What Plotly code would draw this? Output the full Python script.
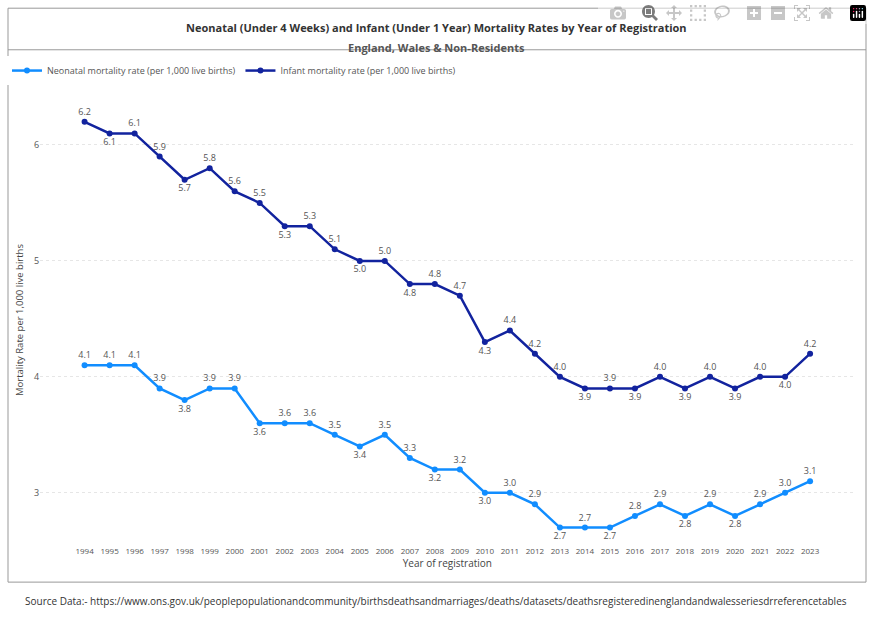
import plotly.graph_objects as go

years = [str(y) for y in range(1994, 2024)]
infant = [6.2, 6.1, 6.1, 5.9, 5.7, 5.8, 5.6, 5.5, 5.3, 5.3, 5.1, 5.0, 5.0, 4.8, 4.8,
          4.7, 4.3, 4.4, 4.2, 4.0, 3.9, 3.9, 3.9, 4.0, 3.9, 4.0, 3.9, 4.0, 4.0, 4.2]
neonatal = [4.1, 4.1, 4.1, 3.9, 3.8, 3.9, 3.9, 3.6, 3.6, 3.6, 3.5, 3.4, 3.5, 3.3, 3.2,
            3.2, 3.0, 3.0, 2.9, 2.7, 2.7, 2.7, 2.8, 2.9, 2.8, 2.9, 2.8, 2.9, 3.0, 3.1]

T, B = "top center", "bottom center"
inf_pos = [T, B, T, T, B, T, T, T, B, T, T, B, T, B, T, T, B, T, T, T, B, T, B, T, B, T, B, T, B, T]
neo_pos = [T, T, T, T, B, T, T, B, T, T, T, B, T, T, B, T, B, T, T, B, T, B, T, T, B, T, B, T, T, T]

font = "Open Sans, Liberation Sans, sans-serif"

fig = go.Figure()
fig.add_trace(go.Scatter(x=years, y=neonatal, mode="lines+markers+text",
                         name="Neonatal mortality rate (per 1,000 live births)",
                         line=dict(color="#118DFF", width=2.5), marker=dict(size=6),
                         text=[f"{v:.1f}" for v in neonatal], textposition=neo_pos,
                         textfont=dict(size=9, color="#555")))
fig.add_trace(go.Scatter(x=years, y=infant, mode="lines+markers+text",
                         name="Infant mortality rate (per 1,000 live births)",
                         line=dict(color="#12239E", width=2.5), marker=dict(size=6),
                         text=[f"{v:.1f}" for v in infant], textposition=inf_pos,
                         textfont=dict(size=9, color="#555")))

fig.update_layout(
    width=872, height=630, margin=dict(l=0, r=0, t=0, b=0),
    paper_bgcolor="white", plot_bgcolor="white",
    font=dict(family=font, color="#444"),
    showlegend=True,
    legend=dict(orientation="h", x=0.008, y=0.888, xanchor="left", yanchor="middle",
                font=dict(size=9, color="#555"), itemwidth=30, traceorder="normal"),
    xaxis=dict(domain=[0.046, 0.98], type="category", showgrid=False, tickangle=0,
               tickfont=dict(size=8, color="#555"),
               title=dict(text="Year of registration", font=dict(size=10, color="#444"), standoff=2)),
    yaxis=dict(domain=[0.135, 0.849], range=[2.55, 6.43], tickvals=[3, 4, 5, 6],
               showgrid=True, gridcolor="#e6e6e6", griddash="dot", zeroline=False,
               tickfont=dict(size=9, color="#555"),
               title=dict(text="Mortality Rate per 1,000 live births", font=dict(size=9.5, color="#444"), standoff=8)),
    shapes=[
        dict(type="rect", xref="paper", yref="paper", x0=8/872, x1=866/872, y0=0.076, y1=0.987,
             line=dict(color="#999", width=1)),
        dict(type="line", xref="paper", yref="paper", x0=8/872, x1=866/872, y0=0.921, y1=0.921,
             line=dict(color="#999", width=1)),
    ],
    annotations=[
        dict(text="<b>Neonatal (Under 4 Weeks) and Infant (Under 1 Year) Mortality Rates by Year of Registration</b>",
             xref="paper", yref="paper", x=0.5, y=0.972, showarrow=False, font=dict(size=11, color="#333")),
        dict(text="<b>England, Wales & Non-Residents</b>",
             xref="paper", yref="paper", x=0.5, y=0.94, showarrow=False, font=dict(size=11, color="#555")),
        dict(text="Source Data:- https://www.ons.gov.uk/peoplepopulationandcommunity/birthsdeathsandmarriages/deaths/datasets/deathsregisteredinenglandandwalesseriesdrreferencetables",
             xref="paper", yref="paper", x=0.5, y=0.032, showarrow=False, font=dict(size=10, color="#333")),
    ],
)

fig.write_html("out.html", post_script="document.body.style.margin='0';")
